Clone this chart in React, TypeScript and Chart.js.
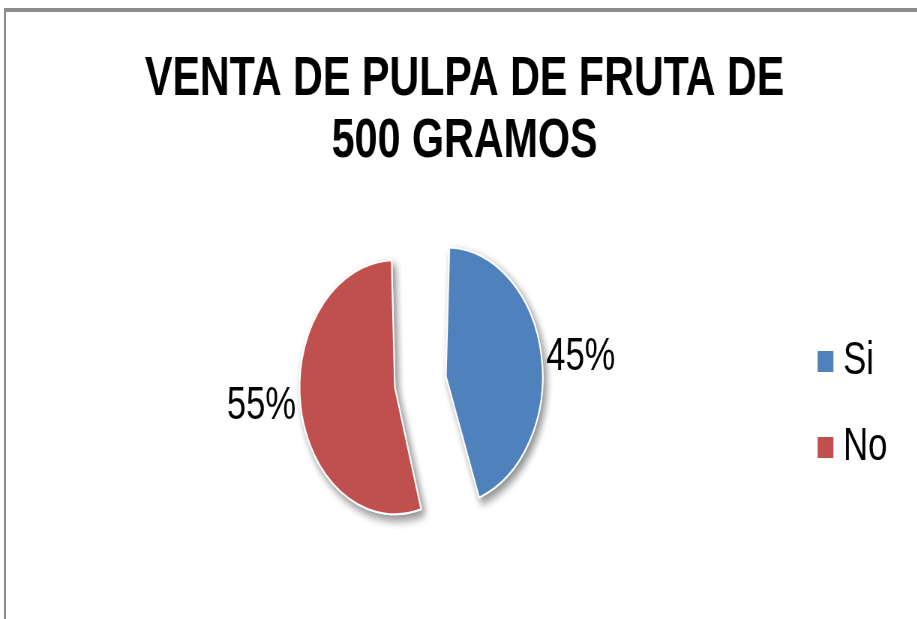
import React, { useEffect, useRef } from 'react';
import { Chart, registerables } from 'chart.js';

Chart.register(...registerables);

// ---- data ----
const categories = ['Si', 'No'];
const values = [45, 55];
const percentLabels = ['45%', '55%'];
const titleLines = ['VENTA DE PULPA DE FRUTA DE', '500 GRAMOS'];
const sliceColors = ['#4F81BD', '#C0504D'];
const sliceOffsets = [168, 108];

// ---- layout constants ----
const SX = 0.75; // horizontal compression of the whole picture
const CW = Math.round(917 / SX);
const CH = 619;
const FONT = "'Liberation Sans', Arial, Helvetica, sans-serif";

const shadowPlugin = {
  id: 'sliceShadow',
  beforeDatasetsDraw(chart: any) {
    const ctx = chart.ctx;
    const meta = chart.getDatasetMeta(0);
    ctx.save();
    ctx.shadowColor = 'rgba(0,0,0,0.45)';
    ctx.shadowBlur = 10;
    ctx.shadowOffsetX = 4;
    ctx.shadowOffsetY = 5;
    meta.data.forEach((el: any) => el.draw(ctx));
    ctx.restore();
  },
};

const pctLabelPlugin = {
  id: 'pctLabels',
  afterDatasetsDraw(chart: any) {
    const ctx = chart.ctx;
    const meta = chart.getDatasetMeta(0);
    ctx.save();
    ctx.font = `46px ${FONT}`;
    ctx.fillStyle = '#000';
    ctx.textAlign = 'center';
    ctx.textBaseline = 'middle';
    meta.data.forEach((el: any, i: number) => {
      const { x, y, startAngle, endAngle, outerRadius } = el.getProps(
        ['x', 'y', 'startAngle', 'endAngle', 'outerRadius'],
        true
      );
      const circ = endAngle - startAngle;
      const off = (el.options.offset || 0) / 4;
      const fix = 1 - Math.sin(Math.min(Math.PI, circ));
      const mid = (startAngle + endAngle) / 2;
      const d = off + outerRadius + off * fix + 53;
      ctx.fillText(percentLabels[i], x + Math.cos(mid) * d, y + Math.sin(mid) * d * 0.72);
    });
    ctx.restore();
  },
};

export default function App() {
  const ref = useRef<HTMLCanvasElement>(null);

  useEffect(() => {
    const chart = new Chart(ref.current as HTMLCanvasElement, {
      type: 'pie',
      data: {
        labels: categories,
        datasets: [
          {
            data: values,
            backgroundColor: sliceColors,
            borderColor: '#ffffff',
            borderWidth: 2,
            offset: sliceOffsets,
            hoverOffset: 0,
            radius: 100,
          } as any,
        ],
      },
      options: {
        responsive: false,
        animation: false,
        events: [],
        layout: { padding: { left: 46, right: 30, top: 0, bottom: 36 } },
        plugins: {
          tooltip: { enabled: false },
          title: {
            display: true,
            text: titleLines,
            color: '#000',
            font: { family: FONT, size: 55, weight: 'bold', lineHeight: 62 / 55 },
            padding: { top: 49, bottom: 10 },
          },
          legend: {
            position: 'right',
            fullSize: false,
            title: {
              display: true,
              text: '',
              font: { size: 10, lineHeight: 1 },
              padding: { top: 33, bottom: 0 },
            },
            labels: {
              usePointStyle: true,
              pointStyle: 'rect',
              boxWidth: 1,
              boxHeight: 23,
              padding: 40,
              color: '#000',
              font: { family: FONT, size: 46 },
            },
          },
        },
      } as any,
      plugins: [shadowPlugin, pctLabelPlugin],
    });
    return () => chart.destroy();
  }, []);

  return (
    <div
      style={{
        position: 'fixed',
        left: 0,
        top: 0,
        width: 917,
        height: 619,
        overflow: 'hidden',
        background: '#ffffff',
      }}
    >
      <div
        style={{
          position: 'absolute',
          left: 4,
          top: 8,
          width: 1000,
          height: 1000,
          borderTop: '4px solid #8c8c8c',
          borderLeft: '2px solid #8c8c8c',
        }}
      />
      <div
        style={{
          position: 'absolute',
          left: 0,
          top: 0,
          width: CW,
          height: CH,
          transform: `scaleX(${SX})`,
          transformOrigin: '0 0',
        }}
      >
        <canvas ref={ref} width={CW} height={CH} />
      </div>
    </div>
  );
}
